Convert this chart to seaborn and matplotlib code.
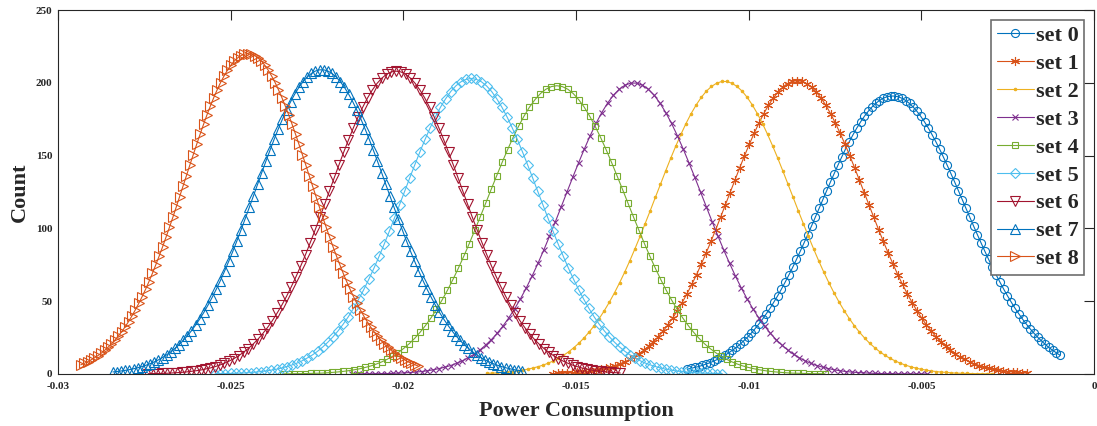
import numpy as np
import pandas as pd
import matplotlib
matplotlib.use('Agg')
import matplotlib.pyplot as plt
import seaborn as sns

# kernel density curves, 100 points each
sets = ['set 0', 'set 1', 'set 2', 'set 3', 'set 4', 'set 5', 'set 6', 'set 7', 'set 8']
x_start = [-0.01178, -0.01567, -0.01758, -0.02149, -0.02348, -0.02545, -0.02739, -0.02841, -0.02934]
x_end = [-0.00098, -0.00194, -0.00295, -0.00483, -0.00779, -0.01077, -0.01372, -0.01656, -0.01957]

count_set0 = [3.3, 3.9, 4.5, 5.1, 5.9, 6.8, 7.7, 8.8, 10.0, 11.4, 12.8, 14.5, 16.3, 18.2, 20.4, 22.8, 25.3, 28.1, 31.1, 34.3,
              37.7, 41.4, 45.2, 49.4, 53.7, 58.3, 63.1, 68.1, 73.3, 78.7, 84.3, 90.0, 95.8, 101.7, 107.7, 113.7, 119.8, 125.8, 131.8, 137.6,
              143.4, 149.0, 154.4, 159.5, 164.3, 168.9, 173.1, 176.9, 180.3, 183.3, 185.8, 187.8, 189.4, 190.4, 190.9,
              190.9, 190.4, 189.4, 187.8, 185.8, 183.3, 180.3, 176.9, 173.1, 168.9, 164.3, 159.5, 154.4, 149.0, 143.4,
              137.6, 131.8, 125.8, 119.8, 113.7, 107.7, 101.7, 95.8, 90.0, 84.3, 78.7, 73.3, 68.1, 63.1, 58.3, 53.7, 49.4, 45.2,
              41.4, 37.7, 34.3, 31.1, 28.1, 25.3, 22.8, 20.4, 18.2, 16.3, 14.5, 12.8]
count_set1 = [0.3, 0.4, 0.6, 0.7, 0.9, 1.1, 1.4, 1.7, 2.2, 2.7, 3.3, 4.0, 4.8, 5.8, 7.0, 8.4, 10.0, 11.8, 13.9, 16.4,
              19.1, 22.2, 25.6, 29.5, 33.7, 38.4, 43.5, 49.1, 55.1, 61.5, 68.3, 75.6, 83.2, 91.0, 99.2, 107.6, 116.1, 124.6, 133.1, 141.6,
              149.8, 157.7, 165.2, 172.2, 178.7, 184.5, 189.5, 193.7, 197.1, 199.5, 201.0, 201.5,
              201.0, 199.5, 197.1, 193.7, 189.5, 184.5, 178.7, 172.2, 165.2, 157.7, 149.8, 141.6, 133.1, 124.6, 116.1, 107.6,
              99.2, 91.0, 83.2, 75.6, 68.3, 61.5, 55.1, 49.1, 43.5, 38.4, 33.7, 29.5, 25.6, 22.2, 19.1, 16.4, 13.9, 11.8, 10.0,
              8.4, 7.0, 5.8, 4.8, 4.0, 3.3, 2.7, 2.2, 1.7, 1.4, 1.1, 0.9, 0.7]
count_set2 = [0.5, 0.6, 0.8, 1.1, 1.3, 1.7, 2.1, 2.7, 3.3, 4.1, 5.0, 6.1, 7.4, 9.0, 10.7, 12.8, 15.2, 18.0, 21.1, 24.7,
              28.7, 33.1, 38.1, 43.5, 49.4, 55.8, 62.7, 70.0, 77.8, 86.0, 94.5, 103.3, 112.2, 121.3, 130.3, 139.3, 148.1, 156.5,
              164.5, 172.0, 178.8, 184.8, 190.0, 194.3, 197.5, 199.7, 200.9,
              200.9, 199.7, 197.5, 194.3, 190.0, 184.8, 178.8, 172.0, 164.5, 156.5, 148.1, 139.3, 130.3, 121.3, 112.2, 103.3,
              94.5, 86.0, 77.8, 70.0, 62.7, 55.8, 49.4, 43.5, 38.1, 33.1, 28.7, 24.7, 21.1, 18.0, 15.2, 12.8, 10.7, 9.0, 7.4,
              6.1, 5.0, 4.1, 3.3, 2.7, 2.1, 1.7, 1.3, 1.1, 0.8, 0.6, 0.5, 0.4, 0.3, 0.2, 0.2, 0.1, 0.1]
count_set3 = [0.0, 0.1, 0.1, 0.1, 0.2, 0.2, 0.3, 0.4, 0.6, 0.8, 1.0, 1.3, 1.7, 2.2, 2.9, 3.7, 4.7, 5.8, 7.3, 9.0,
              11.1, 13.5, 16.4, 19.8, 23.6, 28.0, 33.0, 38.6, 44.8, 51.6, 59.1, 67.2, 75.9, 85.0, 94.6, 104.5, 114.7, 124.9,
              135.1, 145.0, 154.6, 163.7, 172.1, 179.6, 186.1, 191.5, 195.6, 198.4, 199.8,
              199.8, 198.4, 195.6, 191.5, 186.1, 179.6, 172.1, 163.7, 154.6, 145.0, 135.1, 124.9, 114.7, 104.5, 94.6, 85.0,
              75.9, 67.2, 59.1, 51.6, 44.8, 38.6, 33.0, 28.0, 23.6, 19.8, 16.4, 13.5, 11.1, 9.0, 7.3, 5.8, 4.7, 3.7, 2.9,
              2.2, 1.7, 1.3, 1.0, 0.8, 0.6, 0.4, 0.3, 0.2, 0.2, 0.1, 0.1, 0.1, 0.0, 0.0, 0.0]
count_set4 = [0.1, 0.1, 0.2, 0.2, 0.3, 0.4, 0.5, 0.6, 0.8, 1.1, 1.4, 1.8, 2.3, 2.9, 3.6, 4.5, 5.5, 6.8, 8.3, 10.1,
              12.2, 14.7, 17.5, 20.7, 24.4, 28.6, 33.3, 38.5, 44.3, 50.6, 57.4, 64.8, 72.6, 80.9, 89.6, 98.7, 107.9, 117.3,
              126.8, 136.1, 145.3, 154.1, 162.4, 170.1, 177.1, 183.3, 188.4, 192.6, 195.6, 197.4, 198.0,
              197.4, 195.6, 192.6, 188.4, 183.3, 177.1, 170.1, 162.4, 154.1, 145.3, 136.1, 126.8, 117.3, 107.9, 98.7, 89.6,
              80.9, 72.6, 64.8, 57.4, 50.6, 44.3, 38.5, 33.3, 28.6, 24.4, 20.7, 17.5, 14.7, 12.2, 10.1, 8.3, 6.8, 5.5, 4.5,
              3.6, 2.9, 2.3, 1.8, 1.4, 1.1, 0.8, 0.6, 0.5, 0.4, 0.3, 0.2, 0.2, 0.1]
count_set5 = [0.2, 0.2, 0.3, 0.4, 0.5, 0.6, 0.8, 1.0, 1.3, 1.7, 2.1, 2.7, 3.3, 4.1, 5.1, 6.2, 7.5, 9.1, 11.0, 13.1,
              15.6, 18.5, 21.8, 25.5, 29.6, 34.2, 39.3, 45.0, 51.2, 57.8, 65.0, 72.6, 80.7, 89.1, 97.9, 107.0, 116.2, 125.4,
              134.7, 143.8, 152.7, 161.2, 169.2, 176.6, 183.2, 189.0, 194.0, 197.9, 200.7, 202.4, 203.0,
              202.4, 200.7, 197.9, 194.0, 189.0, 183.2, 176.6, 169.2, 161.2, 152.7, 143.8, 134.7, 125.4, 116.2, 107.0, 97.9,
              89.1, 80.7, 72.6, 65.0, 57.8, 51.2, 45.0, 39.3, 34.2, 29.6, 25.5, 21.8, 18.5, 15.6, 13.1, 11.0, 9.1, 7.5, 6.2,
              5.1, 4.1, 3.3, 2.7, 2.1, 1.7, 1.3, 1.0, 0.8, 0.6, 0.5, 0.4, 0.3, 0.2]
count_set6 = [0.2, 0.3, 0.3, 0.4, 0.5, 0.7, 0.9, 1.1, 1.4, 1.8, 2.2, 2.7, 3.4, 4.1, 5.0, 6.1, 7.4, 8.9, 10.6, 12.6,
              14.9, 17.5, 20.5, 23.8, 27.6, 31.8, 36.4, 41.6, 47.1, 53.2, 59.8, 66.8, 74.2, 82.0, 90.3, 98.8, 107.5, 116.5,
              125.5, 134.6, 143.5, 152.3, 160.7, 168.8, 176.4, 183.3, 189.6, 195.0, 199.6, 203.2, 205.9, 207.5, 208.0,
              207.5, 205.9, 203.2, 199.6, 195.0, 189.6, 183.3, 176.4, 168.8, 160.7, 152.3, 143.5, 134.6, 125.5, 116.5, 107.5,
              98.8, 90.3, 82.0, 74.2, 66.8, 59.8, 53.2, 47.1, 41.6, 36.4, 31.8, 27.6, 23.8, 20.5, 17.5, 14.9, 12.6, 10.6, 8.9,
              7.4, 6.1, 5.0, 4.1, 3.4, 2.7, 2.2, 1.8, 1.4, 1.1, 0.9, 0.7]
count_set7 = [1.4, 1.7, 2.1, 2.5, 3.0, 3.6, 4.3, 5.1, 6.0, 7.1, 8.3, 9.7, 11.3, 13.2, 15.2, 17.6, 20.1, 23.0, 26.2, 29.7,
              33.6, 37.8, 42.3, 47.3, 52.6, 58.2, 64.2, 70.6, 77.3, 84.2, 91.5, 99.0, 106.7, 114.5, 122.4, 130.3, 138.3, 146.1,
              153.7, 161.2, 168.3, 175.0, 181.3, 187.1, 192.3, 196.9, 200.8, 204.0, 206.4, 208.1, 208.9,
              208.9, 208.1, 206.4, 204.0, 200.8, 196.9, 192.3, 187.1, 181.3, 175.0, 168.3, 161.2, 153.7, 146.1, 138.3, 130.3,
              122.4, 114.5, 106.7, 99.0, 91.5, 84.2, 77.3, 70.6, 64.2, 58.2, 52.6, 47.3, 42.3, 37.8, 33.6, 29.7, 26.2, 23.0,
              20.1, 17.6, 15.2, 13.2, 11.3, 9.7, 8.3, 7.1, 6.0, 5.1, 4.3, 3.6, 3.0, 2.5, 2.1]
count_set8 = [6.3, 7.3, 8.4, 9.7, 11.1, 12.6, 14.3, 16.3, 18.4, 20.7, 23.3, 26.1, 29.1, 32.4, 36.0, 39.9, 44.1, 48.5, 53.2, 58.2,
              63.5, 69.1, 75.0, 81.1, 87.4, 94.0, 100.7, 107.6, 114.7, 121.9, 129.1, 136.3, 143.6, 150.7, 157.8, 164.7, 171.4,
              177.9, 184.0, 189.8, 195.2, 200.2, 204.6, 208.6, 212.0, 214.9, 217.1, 218.7, 219.7, 220.0,
              219.7, 218.7, 217.1, 214.9, 212.0, 208.6, 204.6, 200.2, 195.2, 189.8, 184.0, 177.9, 171.4, 164.7, 157.8, 150.7,
              143.6, 136.3, 129.1, 121.9, 114.7, 107.6, 100.7, 94.0, 87.4, 81.1, 75.0, 69.1, 63.5, 58.2, 53.2, 48.5, 44.1, 39.9,
              36.0, 32.4, 29.1, 26.1, 23.3, 20.7, 18.4, 16.3, 14.3, 12.6, 11.1, 9.7, 8.4, 7.3, 6.3, 5.5]
counts = [count_set0, count_set1, count_set2, count_set3, count_set4,
          count_set5, count_set6, count_set7, count_set8]

xticks = [-0.03, -0.025, -0.02, -0.015, -0.01, -0.005, 0]
xticklabels = ['-0.03', '-0.025', '-0.02', '-0.015', '-0.01', '-0.005', '0']
yticks = [0, 50, 100, 150, 200, 250]

# MATLAB default line colours and markers
colors = ['#0072BD', '#D95319', '#EDB120', '#7E2F8E', '#77AC30', '#4DBEEE', '#A2142F', '#0072BD', '#D95319']
markers = ['o', (6, 2, 0), '.', 'x', 's', 'D', 'v', '^', '>']
msizes = [5.8, 6.5, 3.5, 5, 5, 5, 7, 7, 7]

frames = []
for name, x0, x1, c in zip(sets, x_start, x_end, counts):
    assert len(c) == 100, (name, len(c))
    frames.append(pd.DataFrame({'set': name, 'x': np.linspace(x0, x1, len(c)), 'count': c}))
df = pd.concat(frames, ignore_index=True)

sns.set_style('white')
plt.rcParams['font.family'] = ['Liberation Serif', 'DejaVu Serif']
plt.rcParams['font.weight'] = 'bold'
plt.rcParams['axes.unicode_minus'] = False

fig, ax = plt.subplots(figsize=(10.97, 4.26), dpi=100)
fig.subplots_adjust(left=0.0529, right=0.9973, bottom=0.1221, top=0.9765)

for name, col, mk, ms in zip(sets, colors, markers, msizes):
    sub = df[df['set'] == name]
    face = col if mk == '.' else 'none'
    sns.lineplot(data=sub, x='x', y='count', ax=ax, color=col, linewidth=0.8,
                 marker=mk, markersize=ms, markerfacecolor=face, markeredgecolor=col,
                 markeredgewidth=0.8, estimator=None, sort=False, label=name)

ax.set_xlim(-0.03, 0)
ax.set_ylim(0, 250)
ax.set_xticks(xticks)
ax.set_xticklabels(xticklabels)
ax.set_yticks(yticks)
ax.tick_params(direction='in', length=7, width=0.8, top=True, right=True,
               labelsize=8, color='#262626', labelcolor='#262626')
ax.tick_params(axis='x', pad=6)
ax.tick_params(axis='y', pad=4)
for sp in ax.spines.values():
    sp.set_visible(True)
    sp.set_color('#262626')
    sp.set_linewidth(0.8)

ax.set_xlabel('Power Consumption', fontsize=16, fontweight='bold', labelpad=7, color='#262626')
ax.set_ylabel('Count', fontsize=16, fontweight='bold', labelpad=4, color='#262626')

leg = ax.legend(loc='upper right', prop={'size': 16, 'weight': 'bold'}, handlelength=1.65,
                handletextpad=0.1, labelspacing=0.33, borderpad=0.25, borderaxespad=0.45,
                fancybox=False, framealpha=1, edgecolor='#6e6e6e')
leg.get_frame().set_linewidth(1.2)

plt.savefig('out.png', dpi=100)
